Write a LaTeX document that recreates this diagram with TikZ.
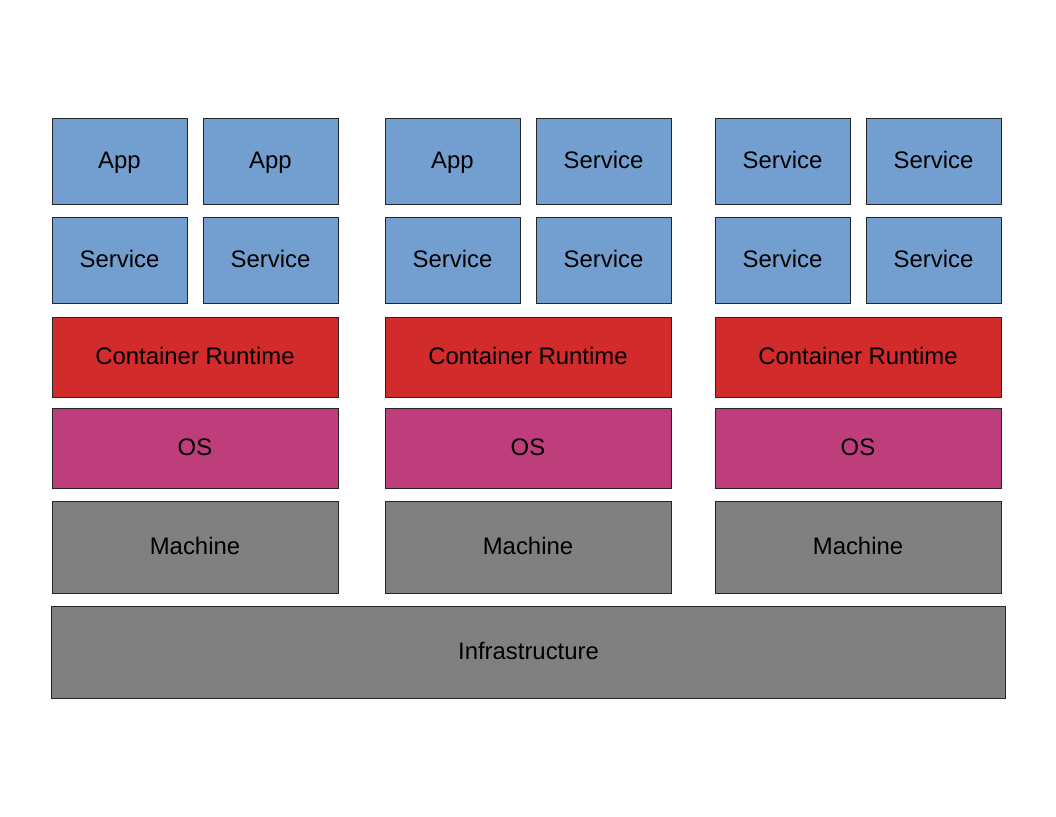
\documentclass[tikz,border=0pt]{standalone}
\usepackage{fontspec}
\setmainfont{Liberation Sans}
\usepackage{xcolor}
\definecolor{appblue}{HTML}{729FCF}
\definecolor{runred}{HTML}{D12B2B}
\definecolor{osmag}{HTML}{BD3E7A}
\definecolor{hwgray}{HTML}{808080}

\begin{document}
\begin{tikzpicture}[x=0.02cm, y=-0.02cm]
            \tikzset{layer/.style={draw=black!85, line width=0.5pt, inner sep=0pt,
                text height=1.75ex, text depth=0.13ex,
                font=\fontsize{13.6}{16}\selectfont}}
            \tikzset{small/.style={layer, fill=appblue, minimum width=2.7cm, minimum height=1.72cm}}
            \tikzset{wide/.style={layer, minimum width=5.72cm}}
            \useasboundingbox (0, 0) rectangle (1056, 816);
            \foreach \col/\L/\ta/\tb in {1/52/App/App, 2/385/App/Service, 3/715/Service/Service} {
                \node[small] (top\col a) at (\L+67.5, 161) {\ta};
                \node[small] (top\col b) at (\L+218.5, 161) {\tb};
                \node[small] (svc\col a) at (\L+67.5, 260) {Service};
                \node[small] (svc\col b) at (\L+218.5, 260) {Service};
                \node[wide, fill=runred, minimum height=1.6cm] (cr\col) at (\L+143, 357) {Container Runtime};
                \node[wide, fill=osmag, minimum height=1.6cm] (os\col) at (\L+143, 448) {OS};
                \node[wide, fill=hwgray, minimum height=1.84cm] (mach\col) at (\L+143, 547) {Machine};
            }
            \node[layer, fill=hwgray, minimum width=19.1cm, minimum height=1.84cm] (infra) at (528.5, 652) {Infrastructure};
        \end{tikzpicture}
\end{document}
